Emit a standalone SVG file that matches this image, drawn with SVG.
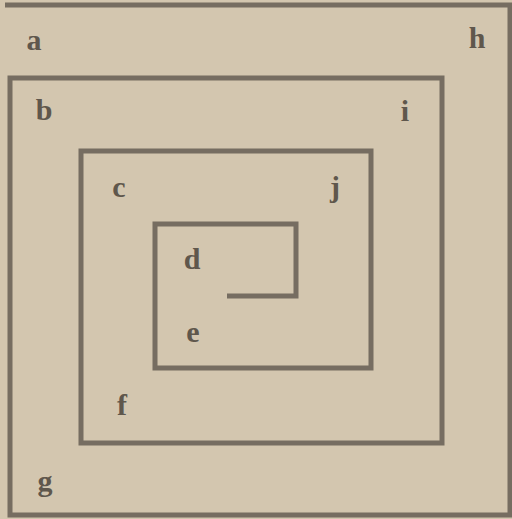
<svg xmlns="http://www.w3.org/2000/svg" width="512" height="519" viewBox="0 0 512 519">
  <style>
    .wall { fill: none; stroke: #766d61; stroke-width: 5; stroke-linejoin: miter; stroke-linecap: butt; }
    .lbl { font-family: "Liberation Serif", "DejaVu Serif", serif; font-size: 30px; font-weight: bold; fill: #5f574c; text-anchor: middle; }
  </style>
  <rect x="0" y="0" width="512" height="519" fill="#d3c6af"/>
  <g id="spiral">
    <path class="wall" d="M5,5 H510 V515 H10 V78 H442 V443 H81 V151 H371 V368 H155 V224 H296 V296 H227"/>
  </g>
  <g id="labels">
    <text class="lbl" x="34" y="50">a</text>
    <text class="lbl" x="477" y="48">h</text>
    <text class="lbl" x="44" y="120">b</text>
    <text class="lbl" x="405" y="121">i</text>
    <text class="lbl" x="119" y="197">c</text>
    <text class="lbl" x="335" y="197">j</text>
    <text class="lbl" x="192" y="269">d</text>
    <text class="lbl" x="193" y="342">e</text>
    <text class="lbl" x="122" y="415">f</text>
    <text class="lbl" x="45" y="491">g</text>
  </g>
</svg>
